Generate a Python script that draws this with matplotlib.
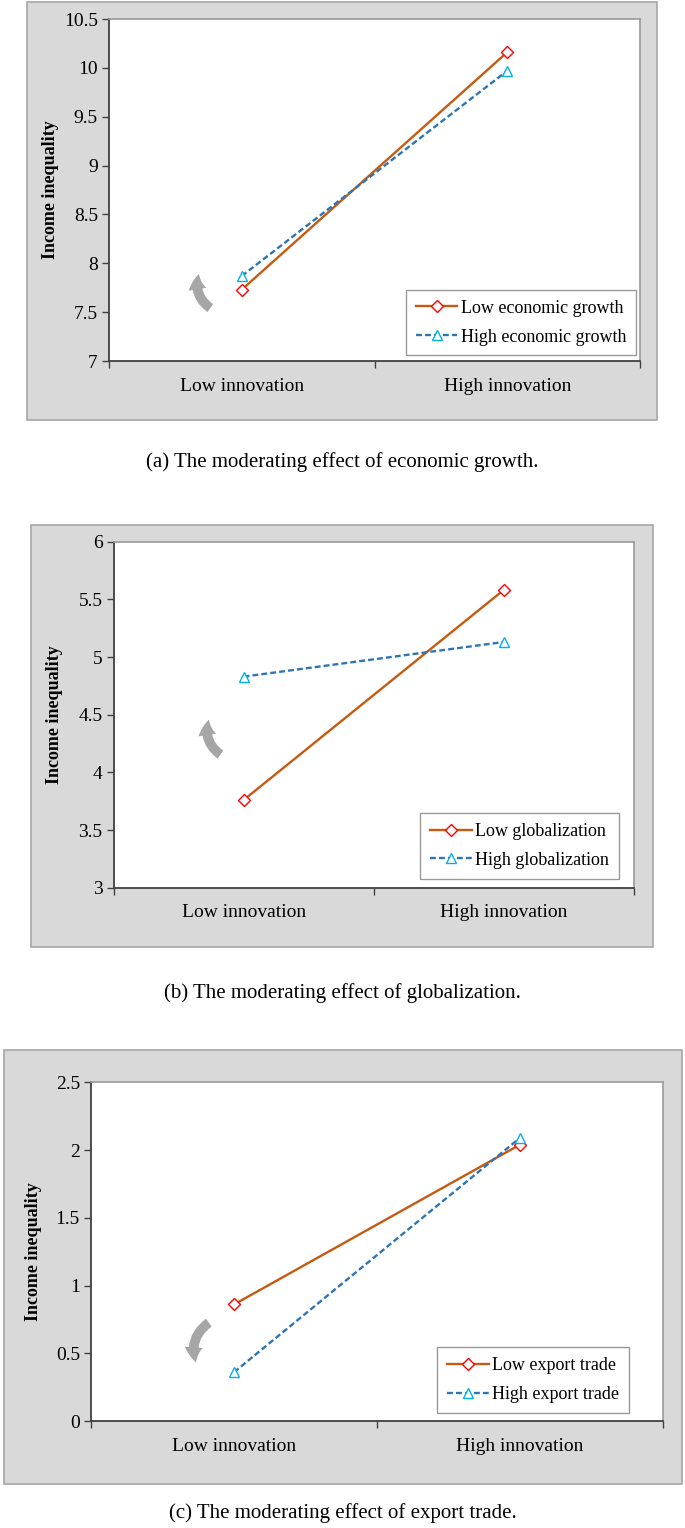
import matplotlib
matplotlib.use("Agg")
import matplotlib.pyplot as plt
from matplotlib.patches import Rectangle, FancyArrowPatch

plt.rcParams['font.family'] = ['Liberation Serif', 'DejaVu Serif']

categories = ["Low innovation", "High innovation"]

low_a = [7.73, 10.16]
high_a = [7.87, 9.97]
labels_a = ["Low economic growth", "High economic growth"]
yticks_a = [7, 7.5, 8, 8.5, 9, 9.5, 10, 10.5]
ticklabels_a = ["7", "7.5", "8", "8.5", "9", "9.5", "10", "10.5"]
caption_a = "(a) The moderating effect of economic growth."

low_b = [3.76, 5.58]
high_b = [4.83, 5.13]
labels_b = ["Low globalization", "High globalization"]
yticks_b = [3, 3.5, 4, 4.5, 5, 5.5, 6]
ticklabels_b = ["3", "3.5", "4", "4.5", "5", "5.5", "6"]
caption_b = "(b) The moderating effect of globalization."

low_c = [0.86, 2.04]
high_c = [0.36, 2.09]
labels_c = ["Low export trade", "High export trade"]
yticks_c = [0, 0.5, 1, 1.5, 2, 2.5]
ticklabels_c = ["0", "0.5", "1", "1.5", "2", "2.5"]
caption_c = "(c) The moderating effect of export trade."

W, H = 685, 1528
fig = plt.figure(figsize=(W / 100, H / 100), dpi=100)
fig.patch.set_facecolor('white')


def px_rect(x0, y0, x1, y1):
    return [x0 / W, 1 - y1 / H, (x1 - x0) / W, (y1 - y0) / H]


def panel(box, axrect, low, high, labels, yticks, yticklabels, leg_anchor,
          arrow_tail, arrow_head, arrow_rad, caption, cap_y, ylab_x):
    bx = box
    fig.patches.append(Rectangle((bx[0] / W, 1 - bx[3] / H), (bx[2] - bx[0]) / W,
                                 (bx[3] - bx[1]) / H, transform=fig.transFigure,
                                 facecolor='#d9d9d9', edgecolor='#a6a6a6', lw=1.2, zorder=-5))
    ax = fig.add_axes(px_rect(*axrect))
    ax.set_zorder(2)
    ax.set_facecolor('white')
    x = [0.5, 1.5]
    ax.plot(x, low, color='#c55a11', lw=1.7, marker='D', ms=6,
            mfc='white', mec='#ff0000', mew=1.0, label=labels[0], zorder=3)
    ax.plot(x, high, color='#2e75b6', lw=1.7, ls=(0, (2.5, 1.3)), marker='^', ms=7.5,
            mfc='white', mec='#00b0f0', mew=1.0, label=labels[1], zorder=3)
    ax.set_xlim(0, 2)
    ax.set_ylim(yticks[0], yticks[-1])
    ax.set_yticks(yticks)
    ax.set_yticklabels(yticklabels)
    ax.set_xticks([0, 1, 2])
    ax.set_xticklabels([])
    ax.set_xticks(x, minor=True)
    ax.set_xticklabels(categories, minor=True)
    ax.tick_params(axis='x', which='minor', length=0, pad=12, labelsize=14)
    ax.tick_params(axis='x', which='major', length=5, width=1, color='#404040', direction='out')
    ax.tick_params(axis='y', length=5, width=1, color='#404040', labelsize=14, pad=3)
    for s in ['left', 'bottom']:
        ax.spines[s].set_color('#404040')
        ax.spines[s].set_linewidth(1.3)
    for s in ['top', 'right']:
        ax.spines[s].set_color('#9a9a9a')
        ax.spines[s].set_linewidth(1.2)
    ax.set_ylabel("Income inequality", fontsize=13, fontweight='bold')
    ax.yaxis.set_label_coords(ylab_x, 0.5)
    leg = ax.legend(loc='upper left', bbox_to_anchor=leg_anchor, fontsize=13,
                    frameon=True, fancybox=False, edgecolor='#808080',
                    handlelength=2.3, handletextpad=0.2, labelspacing=0.65,
                    borderpad=0.55, borderaxespad=0)
    leg.get_frame().set_linewidth(1.0)
    arr = FancyArrowPatch(arrow_tail, arrow_head, transform=ax.transAxes,
                          connectionstyle=f"arc3,rad={arrow_rad}",
                          arrowstyle="simple,head_width=13,head_length=11,tail_width=7",
                          color='#a6a6a6', lw=0, zorder=2)
    ax.add_patch(arr)
    fig.text(0.5, 1 - cap_y / H, caption, ha='center', va='center', fontsize=15)
    return ax


panel((27, 2, 657, 420), (109, 19, 640, 361), low_a, high_a, labels_a, yticks_a, ticklabels_a,
      (0.559, 0.208), (0.195, 0.15), (0.171, 0.262), -0.4, caption_a, 462, -0.094)
panel((31.5, 525, 653, 947), (113.6, 541.7, 633.5, 887.7), low_b, high_b, labels_b, yticks_b,
      ticklabels_b, (0.59, 0.216), (0.21, 0.38), (0.185, 0.493), -0.4, caption_b, 993, -0.097)
panel((3.5, 1050, 681.5, 1484), (91, 1082.3, 663, 1421), low_c, high_c, labels_c, yticks_c,
      ticklabels_c, (0.605, 0.218), (0.21, 0.295), (0.185, 0.165), 0.4, caption_c, 1513, -0.086)

fig.savefig("out.png", dpi=100, facecolor='white')
